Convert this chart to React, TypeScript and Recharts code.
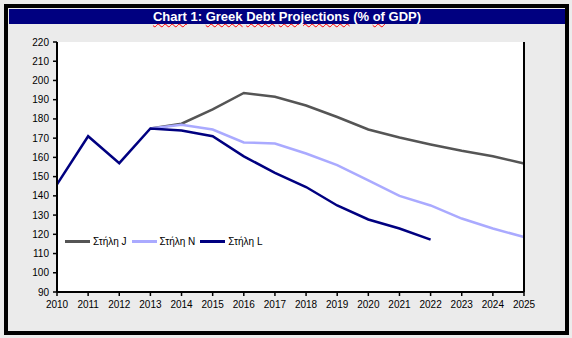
import { LineChart, Line, XAxis, YAxis, CartesianGrid, Legend } from 'recharts';

const years = [2010, 2011, 2012, 2013, 2014, 2015, 2016, 2017, 2018, 2019, 2020, 2021, 2022, 2023, 2024, 2025];
const serieJ = [null, null, null, 175, 177.5, 185, 193.5, 191.5, 187, 181, 174.5, 170.3, 166.7, 163.4, 160.6, 156.8];
const serieN = [null, null, null, 175, 177, 174.5, 167.8, 167.2, 162, 156, 148, 140, 135, 128.2, 123, 118.6];
const serieL = [146, 171, 157, 175, 174, 171, 160.5, 152, 144.6, 135, 127.7, 123, 117.2, null, null, null];
const seriesNames = ['Στήλη J', 'Στήλη N', 'Στήλη L'];
const yTicks = [90, 100, 110, 120, 130, 140, 150, 160, 170, 180, 190, 200, 210, 220];

const data = years.map((year, i) => ({ year, J: serieJ[i], N: serieN[i], L: serieL[i] }));

const font = '"Liberation Sans", Arial, sans-serif';
const tickStyle = { fontSize: 10, fill: '#000', fontFamily: font };
const axisLine = { stroke: '#000', strokeWidth: 2 };
const tickLine = { stroke: '#000', strokeWidth: 1.5 };

// legend drawn from the payload, a line sample then the label, in series order
function LegendContent(props: any) {
  const items = [...(props.payload || [])].sort(
    (a: any, b: any) => seriesNames.indexOf(a.value) - seriesNames.indexOf(b.value)
  );
  return (
    <div style={{ display: 'flex', alignItems: 'center', fontFamily: font, fontSize: 10, color: '#000' }}>
      {items.map((item: any) => (
        <div key={item.value} style={{ display: 'flex', alignItems: 'center', marginRight: 5 }}>
          <span style={{ width: 25, height: 3, background: item.color, display: 'inline-block', marginRight: 3 }} />
          <span>{item.value}</span>
        </div>
      ))}
    </div>
  );
}

const squiggle = { textDecoration: 'underline wavy red', textDecorationThickness: 1, textUnderlineOffset: 2 };

export default function App() {
  return (
    <div style={{ position: 'absolute', left: 0, top: 0, width: 572, height: 338, background: '#ececec' }}>
      {/* frame */}
      <div
        style={{
          position: 'absolute', left: 4, top: 4, width: 565, height: 331,
          boxSizing: 'border-box', border: '4px solid #000', background: '#ebebeb',
        }}
      />
      {/* title bar */}
      <div
        style={{
          position: 'absolute', left: 9, top: 9, width: 556, height: 15, background: '#000080',
          color: '#fff', fontFamily: font, fontWeight: 'bold', fontSize: 13, lineHeight: '15px',
          textAlign: 'center',
        }}
      >
        <span style={squiggle}>Chart</span> 1: <span style={squiggle}>Greek</span>{' '}
        <span style={squiggle}>Debt</span> <span style={squiggle}>Projections</span> (%{' '}
        <span style={squiggle}>of</span> GDP)
      </div>
      <div style={{ position: 'absolute', left: 0, top: 0 }}>
        <LineChart width={572} height={338} data={data} margin={{ top: 42, right: 0, bottom: 0, left: 0 }}>
          <CartesianGrid horizontal={false} vertical={false} fill="#ffffff" />
          <XAxis
            dataKey="year"
            type="number"
            domain={[2010, 2025]}
            ticks={years}
            interval={0}
            height={46}
            tick={tickStyle}
            tickSize={4}
            tickMargin={5}
            axisLine={axisLine}
            tickLine={tickLine}
          />
          <YAxis
            yAxisId="left"
            domain={[90, 220]}
            ticks={yTicks}
            interval={0}
            width={57}
            tick={tickStyle}
            tickSize={4}
            tickMargin={4}
            axisLine={axisLine}
            tickLine={tickLine}
          />
          <YAxis
            yAxisId="right"
            orientation="right"
            domain={[90, 220]}
            ticks={yTicks}
            interval={0}
            width={48}
            tick={tickStyle}
            tickSize={4}
            tickMargin={4}
            axisLine={axisLine}
            tickLine={tickLine}
          />
          <Legend
            layout="horizontal"
            verticalAlign="middle"
            align="center"
            content={LegendContent}
            wrapperStyle={{ position: 'absolute', left: 65, top: 236, width: 'auto' }}
          />
          <Line yAxisId="left" dataKey="J" name={seriesNames[0]} stroke="#555555" strokeWidth={2.5} dot={false} isAnimationActive={false} />
          <Line yAxisId="left" dataKey="N" name={seriesNames[1]} stroke="#aaaaff" strokeWidth={2.5} dot={false} isAnimationActive={false} />
          <Line yAxisId="left" dataKey="L" name={seriesNames[2]} stroke="#000080" strokeWidth={2.5} dot={false} isAnimationActive={false} />
        </LineChart>
      </div>
    </div>
  );
}
